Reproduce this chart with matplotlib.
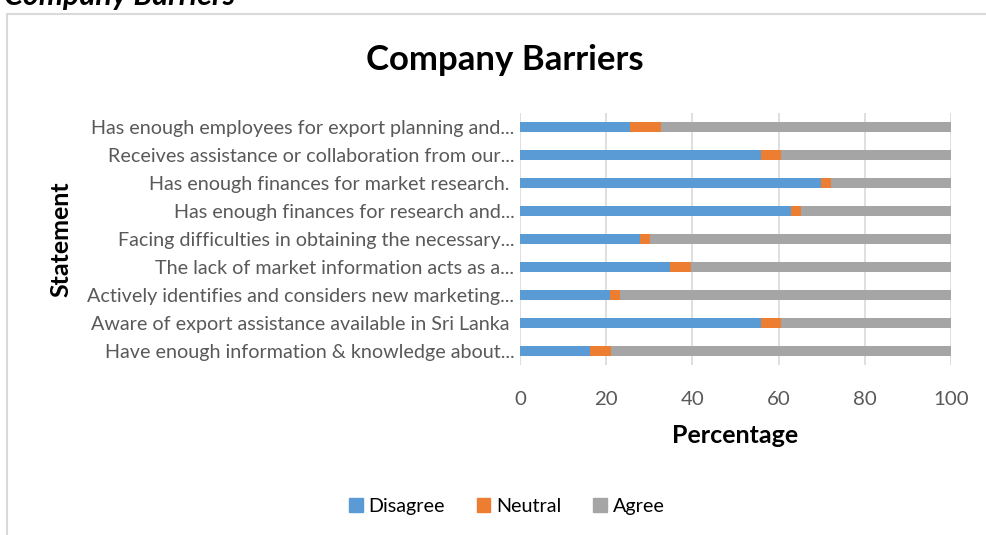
import matplotlib.pyplot as plt
import matplotlib.patches as mpatches
import numpy as np

# statements, bottom to top (same order as in the Excel sheet)
statements = [
    'Have enough information & knowledge about...',
    'Aware of export assistance available in Sri Lanka ',
    'Actively identifies and considers new marketing...',
    'The lack of market information acts as a...',
    'Facing difficulties in obtaining the necessary...',
    'Has enough finances for research and...',
    'Has enough finances for market research. ',
    'Receives assistance or collaboration from our...',
    'Has enough employees for export planning and...',
]
disagree = np.array([16.3, 55.8, 20.9, 34.9, 27.9, 62.8, 69.8, 55.8, 25.6])
neutral = np.array([4.7, 4.7, 2.3, 4.7, 2.3, 2.3, 2.3, 4.7, 7.0])
agree = 100 - disagree - neutral

c_dis = '#5b9bd5'
c_neu = '#ed7d31'
c_agr = '#a5a5a5'
txt_gray = '#595959'

plt.rcParams['font.family'] = ['Lato', 'DejaVu Sans']

fig = plt.figure(figsize=(9.86, 5.35), dpi=100)
ax = fig.add_axes([0.5274, 0.3178, 0.4371, 0.471])

y = np.arange(len(statements))
h = 0.39
ax.barh(y, disagree, h, color=c_dis, label='Disagree', zorder=3)
ax.barh(y, neutral, h, left=disagree, color=c_neu, label='Neutral', zorder=3)
ax.barh(y, agree, h, left=disagree + neutral, color=c_agr, label='Agree', zorder=3)

ax.set_xlim(0, 100)
ax.set_ylim(-0.5, len(statements) - 0.5)
ax.set_xticks(range(0, 101, 20))
ax.set_yticks(y)
ax.set_yticklabels(statements, fontsize=14.2, color=txt_gray)
ax.tick_params(axis='x', labelsize=14.7, labelcolor=txt_gray, length=0, pad=19)
ax.tick_params(axis='y', length=0, pad=4)
ax.grid(axis='x', color='#d9d9d9', linewidth=1.2, zorder=0)
for s in ax.spines.values():
    s.set_visible(False)

ax.set_xlabel('Percentage', fontsize=18, fontweight='bold', labelpad=11)
fig.text(0.062, 0.553, 'Statement', rotation=90, fontsize=18, fontweight='bold',
         ha='center', va='center')

fig.text(0.512, 0.888, 'Company Barriers', fontsize=25, fontweight='bold',
         ha='center', va='center')

# partially visible heading above the chart box (cut off in the source too)
fig.text(0.004, 1 - 5 / 535, 'Company Barriers', fontsize=22, fontweight='bold',
         fontstyle='italic', ha='left', va='baseline')

# chart area border
fig.add_artist(mpatches.Rectangle((7 / 986, -0.05), 1.1, 1 - 14 / 535 + 0.05,
                                  transform=fig.transFigure, fill=False,
                                  edgecolor='#d9d9d9', linewidth=1.5))

handles = [mpatches.Patch(color=c) for c in (c_dis, c_neu, c_agr)]
fig.legend(handles, ['Disagree', 'Neutral', 'Agree'], loc='center',
           bbox_to_anchor=(0.514, 0.054), ncol=3, frameon=False, fontsize=14.2,
           handlelength=0.7, handleheight=0.7, handletextpad=0.3,
           columnspacing=1.6)

fig.savefig('out.png', dpi=100)
